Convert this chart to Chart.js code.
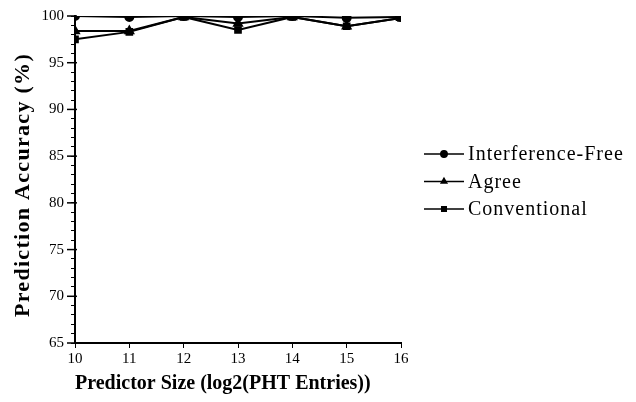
<!DOCTYPE html>
<html lang="en">
<head>
    <meta charset="UTF-8">
    <title>Prediction Accuracy</title>
    <script src="https://cdn.jsdelivr.net/npm/chart.js"></script>
    <style>
        * { margin: 0; padding: 0; box-sizing: border-box; }
        body { background: white; }
        .wrap { width: 636px; height: 402px; position: relative; }
    </style>
</head>
<body>
    <div class="wrap"><canvas id="chart"></canvas></div>
    <script>
        const sizes = [10, 11, 12, 13, 14, 15, 16];
        const interferenceFree = [100, 99.9, 100, 99.9, 100, 99.8, 99.9];
        const agree = [98.4, 98.4, 99.9, 99.2, 99.9, 98.9, 99.8];
        const conventional = [97.5, 98.3, 99.9, 98.5, 99.9, 98.9, 99.8];
        const seriesNames = ["Interference-Free", "Agree", "Conventional"];
        const yMajor = [65, 70, 75, 80, 85, 90, 95, 100];
        const yTitle = "Prediction Accuracy (%)";

        const serif = "'Liberation Serif', 'DejaVu Serif', serif";

        function series(name, values, style) {
            return {
                label: name,
                data: sizes.map((x, i) => ({ x: x, y: values[i] })),
                borderColor: "#000",
                backgroundColor: "#000",
                borderWidth: 2,
                pointStyle: style,
                pointRadius: style === "triangle" ? 4.5 : 4,
                tension: 0
            };
        }

        // longer ticks at labelled values, the spaced-out y title, legend with line + marker
        const extras = {
            id: "extras",
            afterDraw(chart) {
                const ctx = chart.ctx;
                const y = chart.scales.y;
                ctx.save();
                ctx.strokeStyle = "#000";
                ctx.fillStyle = "#000";
                ctx.lineWidth = 1.5;
                yMajor.forEach(v => {
                    const py = y.getPixelForValue(v);
                    ctx.beginPath();
                    ctx.moveTo(y.right - 8, py);
                    ctx.lineTo(y.right + 2, py);
                    ctx.stroke();
                });

                ctx.save();
                ctx.translate(23, 185);
                ctx.rotate(-Math.PI / 2);
                ctx.font = "bold 22px " + serif;
                ctx.letterSpacing = "1.3px";
                ctx.textAlign = "center";
                ctx.textBaseline = "middle";
                ctx.fillText(yTitle, 0, 0);
                ctx.restore();

                ctx.font = "20px " + serif;
                ctx.letterSpacing = "1px";
                ctx.textBaseline = "middle";
                chart.data.datasets.forEach((ds, i) => {
                    const ly = 154 + i * 27.5;
                    ctx.lineWidth = 1.5;
                    ctx.beginPath();
                    ctx.moveTo(424, ly);
                    ctx.lineTo(464, ly);
                    ctx.stroke();
                    Chart.helpers.drawPoint(ctx, { pointStyle: ds.pointStyle, radius: 3.2, borderWidth: 1 }, 444, ly);
                    ctx.fill();
                    ctx.fillText(ds.label, 468, ly + 1);
                });
                ctx.restore();
            }
        };

        new Chart(document.getElementById("chart"), {
            type: "line",
            data: {
                datasets: [
                    series(seriesNames[0], interferenceFree, "circle"),
                    series(seriesNames[1], agree, "triangle"),
                    series(seriesNames[2], conventional, "rect")
                ]
            },
            options: {
                responsive: true,
                maintainAspectRatio: false,
                animation: false,
                layout: { padding: { left: 0, right: 235, top: 15, bottom: 6 } },
                plugins: { legend: { display: false }, tooltip: { enabled: false } },
                scales: {
                    x: {
                        type: "linear",
                        min: 10,
                        max: 16,
                        afterFit(scale) { scale.height = 53; },
                        ticks: { stepSize: 1, color: "#000", padding: 2, font: { family: serif, size: 15 } },
                        grid: { drawOnChartArea: false, color: "#000", tickLength: 5 },
                        border: { color: "#000", width: 2 },
                        title: {
                            display: true,
                            align: "start",
                            text: "Predictor Size (log2(PHT Entries))",
                            color: "#000",
                            padding: { top: 0, bottom: 0 },
                            font: { family: serif, size: 20, weight: "bold" }
                        }
                    },
                    y: {
                        min: 65,
                        max: 100,
                        afterFit(scale) { scale.width = 75; },
                        ticks: {
                            stepSize: 1,
                            autoSkip: false,
                            color: "#000",
                            padding: 7,
                            font: { family: serif, size: 15 },
                            callback: v => (v % 5 === 0 ? v : "")
                        },
                        grid: { drawOnChartArea: false, color: "#000", tickLength: 4 },
                        border: { color: "#000", width: 2 }
                    }
                }
            },
            plugins: [extras]
        });
    </script>
</body>
</html>
